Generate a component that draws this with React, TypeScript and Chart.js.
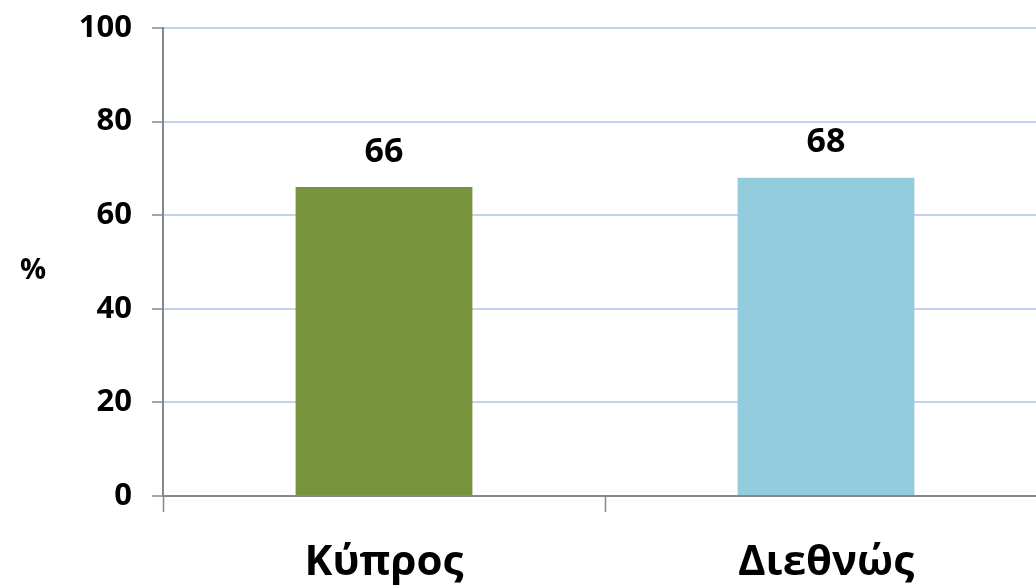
import React, { useEffect, useRef } from "react";
import { Chart, registerables } from "chart.js";

Chart.register(...registerables);

const categories = ["Κύπρος", "Διεθνώς"];
const values = [66, 68];
const barColors = ["#77933C", "#93CDDD"];
const yTicks = [0, 20, 40, 60, 80, 100];
const yUnit = "%";

const FONT = "'Open Sans', 'Noto Sans', sans-serif";
const AXIS_GRAY = "#878787";
const GRID_BLUE = "#C3D3EE";

// Writes each bar's value above it and the unit label left of the value axis.
const labelsPlugin = {
  id: "valueLabels",
  afterDatasetsDraw(chart: Chart) {
    const { ctx, chartArea } = chart;
    const meta = chart.getDatasetMeta(0);
    ctx.save();
    ctx.fillStyle = "#000";
    ctx.textAlign = "center";
    ctx.textBaseline = "middle";
    ctx.font = `bold 34px ${FONT}`;
    meta.data.forEach((bar: any, i: number) => {
      ctx.fillText(String(values[i]), bar.x, bar.y - 35);
    });
    ctx.font = `bold 29px ${FONT}`;
    ctx.fillText(yUnit, 33, (chartArea.top + chartArea.bottom) / 2 + 9);
    ctx.restore();
  },
};

export default function App() {
  const ref = useRef<HTMLCanvasElement>(null);

  useEffect(() => {
    if (!ref.current) return;
    const chart = new Chart(ref.current, {
      type: "bar",
      data: {
        labels: categories,
        datasets: [
          {
            data: values,
            backgroundColor: barColors,
            barPercentage: 0.4,
            categoryPercentage: 1,
          },
        ],
      },
      options: {
        animation: false,
        responsive: false,
        maintainAspectRatio: false,
        layout: { padding: { top: 28, left: 0, right: 0, bottom: 0 } },
        plugins: {
          legend: { display: false },
          tooltip: { enabled: false },
        },
        scales: {
          x: {
            afterFit: (s: any) => {
              s.height = 124;
              s.paddingLeft = 0;
              s.paddingRight = 0;
            },
            grid: {
              offset: true,
              drawOnChartArea: false,
              drawTicks: true,
              tickLength: 16,
              tickColor: AXIS_GRAY,
              tickWidth: 1.5,
            },
            border: { display: true, color: AXIS_GRAY, width: 2 },
            ticks: {
              color: "#000",
              padding: 26,
              font: { family: FONT, size: 42, weight: "bold" },
            },
          },
          y: {
            min: 0,
            max: 100,
            afterFit: (s: any) => {
              s.width = 163;
              s.paddingTop = 0;
              s.paddingBottom = 0;
            },
            afterBuildTicks: (s: any) => {
              s.ticks = yTicks.map((v) => ({ value: v }));
            },
            grid: {
              color: (c: any) => (c.tick && c.tick.value === 0 ? "rgba(0,0,0,0)" : GRID_BLUE),
              lineWidth: 2,
              drawTicks: true,
              tickLength: 11,
              tickColor: AXIS_GRAY,
              tickWidth: 1.5,
            },
            border: { display: true, color: AXIS_GRAY, width: 2 },
            ticks: {
              color: "#000",
              padding: 20,
              font: { family: FONT, size: 31, weight: "bold" },
            },
          },
        },
      },
      plugins: [labelsPlugin],
    });
    return () => chart.destroy();
  }, []);

  return (
    <div style={{ position: "fixed", left: 0, top: 0, width: 1060, height: 620, background: "#fff" }}>
      <canvas ref={ref} width={1047} height={620} style={{ display: "block" }} />
    </div>
  );
}
